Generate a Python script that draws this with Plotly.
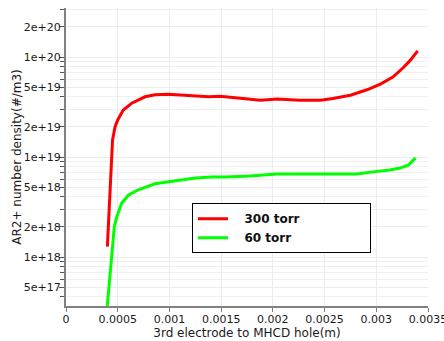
import plotly.graph_objects as go

# 300 torr series
x_300 = [0.000400, 0.000416, 0.000432, 0.000440, 0.000450, 0.000474, 0.000500, 0.000554,
         0.000635, 0.000764, 0.000860, 0.000990, 0.00118, 0.00138, 0.00149, 0.00168,
         0.00188, 0.00204, 0.00226, 0.00246, 0.00258, 0.00275, 0.00291, 0.00304,
         0.00316, 0.00326, 0.00333, 0.00340]
y_300 = [1.27e18, 2.7e18, 5.9e18, 1.0e19, 1.48e19, 2.0e19, 2.35e19, 2.95e19,
         3.45e19, 4.0e19, 4.2e19, 4.25e19, 4.1e19, 4.0e19, 4.05e19, 3.85e19,
         3.7e19, 3.8e19, 3.7e19, 3.7e19, 3.85e19, 4.15e19, 4.7e19, 5.35e19,
         6.3e19, 7.8e19, 9.3e19, 1.15e20]

# 60 torr series
x_60 = [0.000396, 0.000416, 0.000432, 0.000448, 0.000467, 0.000490, 0.000538, 0.000602,
        0.000699, 0.000860, 0.00105, 0.00125, 0.00141, 0.00155, 0.00178, 0.00204,
        0.00226, 0.00258, 0.00281, 0.00297, 0.00313, 0.00323, 0.00331, 0.00338]
y_60 = [3.0e17, 5.0e17, 7.9e17, 1.26e18, 2.0e18, 2.5e18, 3.45e18, 4.15e18,
        4.7e18, 5.4e18, 5.75e18, 6.15e18, 6.3e18, 6.3e18, 6.45e18, 6.75e18,
        6.75e18, 6.75e18, 6.75e18, 7.1e18, 7.4e18, 7.75e18, 8.3e18, 9.8e18]

x_ticks = [0, 0.0005, 0.001, 0.0015, 0.002, 0.0025, 0.003, 0.0035]
x_ticktext = ["0", "0.0005", "0.001", "0.0015", "0.002", "0.0025", "0.003", "0.0035"]
y_ticks = [5e17, 1e18, 2e18, 5e18, 1e19, 2e19, 5e19, 1e20, 2e20]
y_ticktext = ["5e+17", "1e+18", "2e+18", "5e+18", "1e+19", "2e+19", "5e+19", "1e+20", "2e+20"]
y_minor = [4e17, 6e17, 7e17, 8e17, 9e17, 3e18, 4e18, 6e18, 7e18, 8e18, 9e18,
           3e19, 4e19, 6e19, 7e19, 8e19, 9e19, 3e20]

NB = "\u00a0"
fig = go.Figure()
fig.add_trace(go.Scatter(x=x_300, y=y_300, mode="lines", name=NB * 3 + "<b>300 torr</b>" + NB * 17,
                         line=dict(color="#ff0000", width=3)))
fig.add_trace(go.Scatter(x=x_60, y=y_60, mode="lines", name=NB * 3 + "<b>60 torr</b>",
                         line=dict(color="#00ff00", width=3)))

font = "DejaVu Sans"
fig.update_layout(
    width=444, height=341,
    margin=dict(l=66, r=16, t=8, b=35),
    paper_bgcolor="white", plot_bgcolor="white",
    font=dict(family=font, size=11, color="#1a1a1a"),
    legend=dict(x=0.348, y=0.345, xanchor="left", yanchor="top",
                bordercolor="black", borderwidth=1, bgcolor="white",
                font=dict(family=font, size=12, color="#111111"),
                itemwidth=30, tracegroupgap=0),
    xaxis=dict(range=[0, 0.0035], tickvals=x_ticks, ticktext=x_ticktext, automargin=False,
               ticklabeloverflow="allow", ticklabelstandoff=-2,
               showline=True, linecolor="#808080", linewidth=2,
               ticks="outside", ticklen=4, tickcolor="#808080",
               showgrid=True, gridcolor="#ececec", gridwidth=1, zeroline=False,
               title=dict(text="3rd electrode to MHCD hole(m)", standoff=0,
                          font=dict(family=font, size=12, color="#1a1a1a"))),
    yaxis=dict(type="log", range=[17.51, 20.49], tickvals=y_ticks, ticktext=y_ticktext,
               automargin=False, ticklabelstandoff=-4,
               showline=True, linecolor="#808080", linewidth=2,
               ticks="outside", ticklen=5, tickcolor="#555555",
               showgrid=True, gridcolor="#ececec", gridwidth=1, zeroline=False,
               minor=dict(tickvals=y_minor, ticks="outside", ticklen=4, tickcolor="#555555",
                          showgrid=True, gridcolor="#f0f0f0", gridwidth=1),
               title=dict(text="AR2+ number density(#/m3)", standoff=0,
                          font=dict(family=font, size=12, color="#1a1a1a"))),
)

fig.write_html("out.html", config={"displayModeBar": False},
               post_script="document.body.style.margin='0';document.body.style.overflow='hidden';")
